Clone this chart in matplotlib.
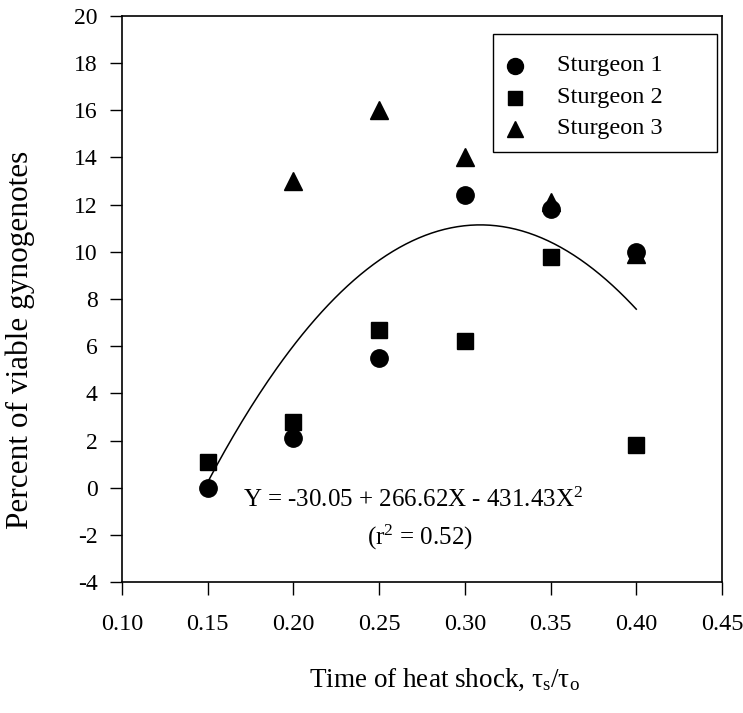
import matplotlib

matplotlib.use("Agg")
import matplotlib.pyplot as plt
from matplotlib.patches import Rectangle
import numpy as np

plt.rcParams["font.family"] = ["Liberation Serif", "DejaVu Serif"]
plt.rcParams["mathtext.fontset"] = "custom"
plt.rcParams["mathtext.rm"] = "Liberation Serif"
plt.rcParams["mathtext.it"] = "Liberation Serif:italic"
plt.rcParams["axes.unicode_minus"] = False

# heat shock time (tau_s / tau_o)
x_s1 = [0.15, 0.20, 0.25, 0.30, 0.35, 0.40]
y_s1 = [0.0, 2.1, 5.5, 12.4, 11.8, 10.0]

x_s2 = [0.15, 0.20, 0.25, 0.30, 0.35, 0.40]
y_s2 = [1.1, 2.8, 6.7, 6.2, 9.8, 1.8]

x_s3 = [0.20, 0.25, 0.30, 0.35, 0.40]
y_s3 = [13.0, 16.0, 14.0, 12.1, 9.9]

# fitted quadratic, coefficients as printed on the chart
fit_coef = [-30.05, 266.62, -431.43]
fit_range = [0.15, 0.40]

x_ticks = [0.10, 0.15, 0.20, 0.25, 0.30, 0.35, 0.40, 0.45]
y_ticks = [-4, -2, 0, 2, 4, 6, 8, 10, 12, 14, 16, 18, 20]

series = [
    (x_s1, y_s1, "o", 12.5, "Sturgeon 1"),
    (x_s2, y_s2, "s", 11, "Sturgeon 2"),
    (x_s3, y_s3, "^", 12.5, "Sturgeon 3"),
]

fig = plt.figure(figsize=(7.43, 7.13), dpi=100)
ax = fig.add_axes([0.1642, 0.1837, 0.8075, 0.7939])

for xs, ys, marker, size, name in series:
    ax.plot(xs, ys, marker, color="black", markersize=size, label=name, zorder=3)

xf = np.linspace(fit_range[0], fit_range[1], 200)
yf = fit_coef[0] + fit_coef[1] * xf + fit_coef[2] * xf ** 2
ax.plot(xf, yf, color="black", linewidth=1.1, zorder=2)

ax.text(0.270, -0.5, r"Y = -30.05 + 266.62X - 431.43X$^\mathregular{2}$",
        ha="center", va="center", fontsize=18)
ax.text(0.274, -2.1, r"(r$^\mathregular{2}$ = 0.52)", ha="center", va="center", fontsize=18)

ax.set_xlim(0.10, 0.45)
ax.set_ylim(-4, 20)
ax.set_xticks(x_ticks)
ax.set_xticklabels([f"{t:.2f}" for t in x_ticks])
ax.set_yticks(y_ticks)
ax.tick_params(direction="out", length=9, width=1)
ax.tick_params(axis="x", labelsize=17.5, pad=14)
ax.tick_params(axis="y", labelsize=17, pad=8.5)
for side in ["left", "bottom", "right", "top"]:
    ax.spines[side].set_linewidth(1.2)

fig.text(444 / 743, 1 - 680 / 713, r"Time of heat shock, τ$_\mathregular{s}$/τ$_\mathregular{o}$",
         ha="center", va="center", fontsize=19.5)
fig.text(20 / 743, 1 - 340 / 713, "Percent of viable gynogenotes", rotation=90,
         ha="center", va="center", fontsize=22.5)

# legend box drawn by hand: the original has a wide frame with empty space on the right
def px_to_axes(px, py):
    return (px - 122) / 600, (582 - py) / 566

x0, y0 = px_to_axes(493, 152)
x1, y1 = px_to_axes(717, 34)
ax.add_patch(Rectangle((x0, y0), x1 - x0, y1 - y0, transform=ax.transAxes,
                       facecolor="white", edgecolor="black", linewidth=1.0, zorder=4))
row_px = [66, 98, 129]
for (xs, ys, marker, size, name), py in zip(series, row_px):
    mx, my = px_to_axes(515, py)
    tx, _ = px_to_axes(557, py)
    ax.plot([mx], [my], marker, color="black", markersize=size * 0.92,
            transform=ax.transAxes, zorder=5, clip_on=False)
    ax.text(tx, my, name, transform=ax.transAxes, ha="left", va="center",
            fontsize=17.5, zorder=5)

fig.savefig("out.png", dpi=100)
